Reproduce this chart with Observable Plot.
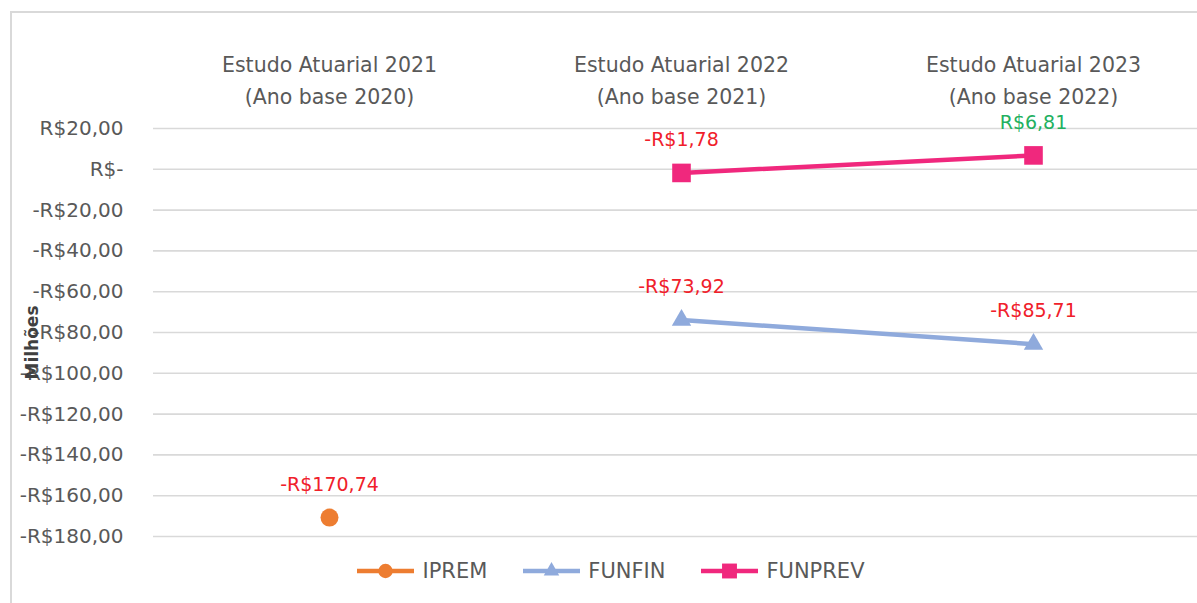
<!DOCTYPE html>
<html>
<head>
<meta charset="utf-8">
<script src="https://cdn.jsdelivr.net/npm/d3@7"></script>
<script src="https://cdn.jsdelivr.net/npm/@observablehq/plot@0.6"></script>
<style>
  body { margin: 0; background: #fff; font-family: "DejaVu Sans", sans-serif; }
  #wrap { position: relative; width: 1197px; height: 603px; overflow: hidden; background: #fff; }
  #frame { position: absolute; left: 10px; top: 11px; width: 1400px; height: 800px;
           border-left: 2px solid #d9d9d9; border-top: 2px solid #d9d9d9; }
  #chart { position: absolute; left: 0; top: 0; width: 1197px; }
  #legend { height: 52px; display: flex; align-items: center; justify-content: center;
            padding-left: 25px; box-sizing: border-box; font-size: 21px; color: #595959; }
  .item { display: flex; align-items: center; margin: 0 18px; }
  .item svg { margin-right: 8px; }
</style>
</head>
<body>
<div id="wrap"><div id="frame"></div><div id="chart"></div></div>
<script>
// ---- data ----
const categories = [
  "Estudo Atuarial 2021\n(Ano base 2020)",
  "Estudo Atuarial 2022\n(Ano base 2021)",
  "Estudo Atuarial 2023\n(Ano base 2022)"
];
const seriesNames = ["IPREM", "FUNFIN", "FUNPREV"];
const ipremValues = [-170.74, null, null];
const funfinValues = [null, -73.92, -85.71];
const funprevValues = [null, -1.78, 6.81];
const yTicks = [20, 0, -20, -40, -60, -80, -100, -120, -140, -160, -180];
const yLabel = "Milhões";

// ---- styles ----
const colors = { IPREM: "#ED7D31", FUNFIN: "#8FAADC", FUNPREV: "#F0287D" };
const symbols = { IPREM: "circle", FUNFIN: "triangle", FUNPREV: "square" };
const sizes = { IPREM: 9, FUNFIN: 7.2, FUNPREV: 10.5 };
const negColor = "#F0202A", posColor = "#22B060";
const font = "'DejaVu Sans', sans-serif";

const rows = [];
[ipremValues, funfinValues, funprevValues].forEach((vals, i) =>
  vals.forEach((v, j) => { if (v != null) rows.push({ series: seriesNames[i], cat: categories[j], value: v }); })
);

const fmt = v => v === 0 ? "R$-" : (v < 0 ? "-" : "") + "R$" + Math.abs(v).toFixed(2).replace(".", ",");

const marks = [
  Plot.ruleY(yTicks, { stroke: "#d9d9d9", strokeWidth: 1.6 }),
  Plot.axisY(yTicks, { tickSize: 0, tickPadding: 30, tickFormat: fmt, fontSize: 20, fill: "#595959", label: null }),
  Plot.text([yLabel], { frameAnchor: "left", dx: -121, rotate: -90, textAnchor: "middle", lineAnchor: "middle",
                        fontSize: 17, fontWeight: "bold", fill: "#404040" }),
  Plot.text(categories, { x: d => d, text: d => d, frameAnchor: "top", lineAnchor: "middle", dy: -62,
                          lineHeight: 1.55, fontSize: 20.5, fill: "#595959" })
];
for (const s of seriesNames) {
  const data = rows.filter(d => d.series === s);
  marks.push(Plot.line(data, { x: "cat", y: "value", stroke: colors[s], strokeWidth: 4.5 }));
  marks.push(Plot.dot(data, { x: "cat", y: "value", symbol: symbols[s], r: sizes[s], fill: colors[s], stroke: "none" }));
}
marks.push(Plot.text(rows, { x: "cat", y: "value", text: d => fmt(d.value),
  fill: d => d.value < 0 ? negColor : posColor, dy: -33, fontSize: 19 }));

const chart = Plot.plot({
  width: 1197, height: 545,
  marginLeft: 153, marginRight: 0, marginTop: 139, marginBottom: 0,
  style: { fontFamily: font, background: "transparent", overflow: "visible" },
  x: { type: "point", domain: categories, range: [153, 1209], padding: 0.5, axis: null },
  y: { domain: [-180, 20], range: [536, 128], axis: null },
  color: { type: "identity" },
  marks
});
const host = document.getElementById("chart");
host.appendChild(chart);

// ---- legend ----
const legend = document.createElement("div");
legend.id = "legend";
const symPath = { circle: d3.symbolCircle, triangle: d3.symbolTriangle, square: d3.symbolSquare };
for (const s of seriesNames) {
  const item = document.createElement("div");
  item.className = "item";
  const r = sizes[s] * 0.8;
  const p = d3.symbol(symPath[symbols[s]], Math.PI * r * r)();
  item.innerHTML = `<svg width="57" height="20"><line x1="0" x2="57" y1="10" y2="10" stroke="${colors[s]}" stroke-width="4.5"/>` +
    `<path d="${p}" transform="translate(28.5,10)" fill="${colors[s]}"/></svg><span>${s}</span>`;
  legend.appendChild(item);
}
host.appendChild(legend);
</script>
</body>
</html>
